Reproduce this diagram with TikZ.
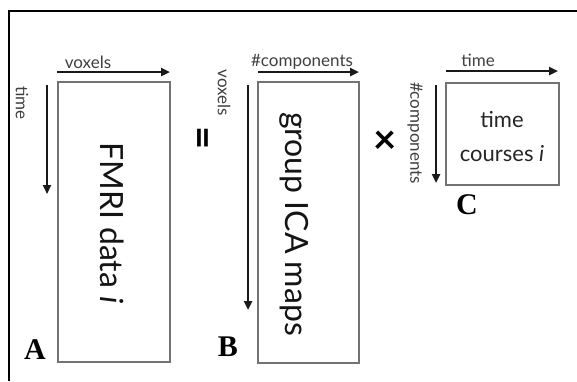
\documentclass[tikz,border=0pt]{standalone}
\usepackage{fontspec}
\setmainfont{Lato}
\newfontfamily\letterfont{Liberation Serif}
\usetikzlibrary{arrows.meta}
\begin{document}
\begin{tikzpicture}[x=1pt,y=-1pt,
  mat/.style={draw=black!55, line width=1.7pt, inner sep=0pt, fill=white},
  dimarrow/.style={-{Triangle[length=9pt,width=8pt]}, line width=2.4pt, black!90},
  lab/.style={inner sep=0pt, text=black!75, font=\fontsize{17}{20}\selectfont},
  big/.style={inner sep=0pt, text=black!92, font=\fontsize{32}{36}\selectfont},
  mid/.style={inner sep=0pt, text=black!85, align=center, font=\fontsize{22}{34}\selectfont},
  panel/.style={inner sep=0pt, font=\letterfont\bfseries\fontsize{30}{34}\selectfont},
  op/.style={inner sep=0pt, font=\bfseries\fontsize{40}{44}\selectfont}]
\useasboundingbox (0,0) rectangle (577,381);
\fill[white] (0,0) rectangle (577,381);
\coordinate (fa) at (9,381);
\coordinate (fb) at (9,11);
\coordinate (fc) at (577,11);
\draw[line width=1.5pt] (fa) -- (fb) -- (fc);

% matrices
\node[mat, minimum width=112pt, minimum height=280pt] (A) at (114,222) {};
\node[mat, minimum width=101pt, minimum height=281pt] (B) at (308.5,222.5) {};
\node[mat, minimum width=113pt, minimum height=102pt] (C) at (502.5,134) {};

% texts in matrices
\node[big, rotate=-90] (ta) at (112,223) {FMRI data \textit{i}};
\node[big, rotate=-90] (tb) at (294,224) {group ICA maps};
\node[mid] (tc) at (502,137) {time\\courses \textit{i}};

% dimension arrows
\coordinate (a1) at (57,72);
\coordinate (a2) at (170,72);
\draw[dimarrow] (a1) -- (a2);
\coordinate (a3) at (47,85);
\coordinate (a4) at (47,194);
\draw[dimarrow] (a3) -- (a4);

\coordinate (b1) at (258,72);
\coordinate (b2) at (359,72);
\draw[dimarrow] (b1) -- (b2);
\coordinate (b3) at (248,85);
\coordinate (b4) at (248,310);
\draw[dimarrow] (b3) -- (b4);

\coordinate (c1) at (446,71);
\coordinate (c2) at (558,71);
\draw[dimarrow] (c1) -- (c2);
\coordinate (c3) at (436,85);
\coordinate (c4) at (436,183);
\draw[dimarrow] (c3) -- (c4);

% dimension labels
\node[lab] (la1) at (88,62) {voxels};
\node[lab, rotate=-90] (la2) at (22,103) {time};
\node[lab] (lb1) at (302,62) {\#components};
\node[lab, rotate=-90] (lb2) at (224,93) {voxels};
\node[lab] (lc1) at (478,60) {time};
\node[lab, rotate=-90] (lc2) at (415,133) {\#components};

% operators
\node[op, rotate=-90] (eq) at (199,138) {=};
\node[op] (times) at (385,142) {\symbol{"D7}};

% panel letters
\node[panel] (pa) at (35,350) {A};
\node[panel] (pb) at (228,347) {B};
\node[panel] (pc) at (467,205) {C};
\end{tikzpicture}
\end{document}
